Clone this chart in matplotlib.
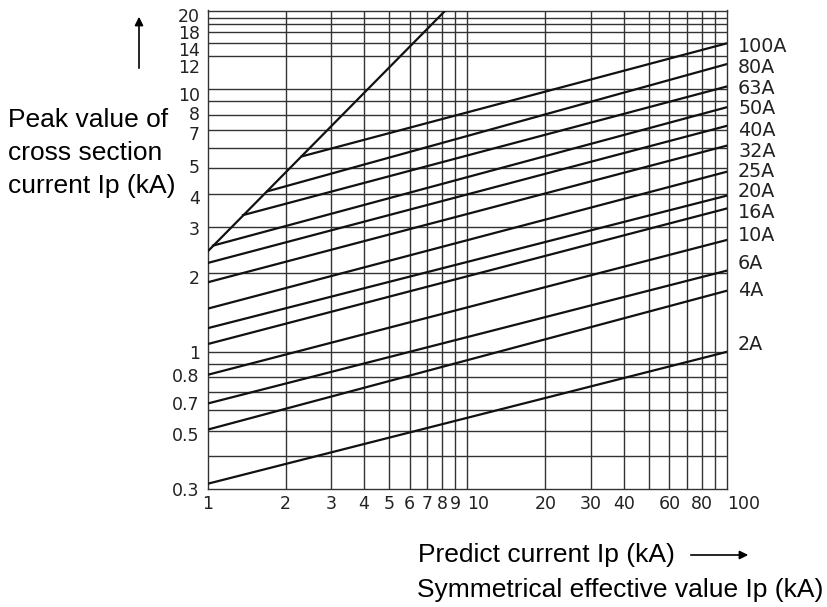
import numpy as np
import matplotlib
matplotlib.use("Agg")
import matplotlib.pyplot as plt
from matplotlib.ticker import NullLocator

# fuse ratings and their cut-off lines
fuse_labels = ['100A', '80A', '63A', '50A', '40A', '32A', '25A', '20A', '16A', '10A', '6A', '4A', '2A']
start_x = [2.31, 1.70, 1.37, 1.05, 1, 1, 1, 1, 1, 1, 1, 1, 1]
start_y = [5.56, 4.09, 3.32, 2.54, 2.18, 1.84, 1.46, 1.23, 1.07, 0.817, 0.635, 0.505, 0.314]
end_y = [15.0, 12.5, 10.27, 8.56, 7.27, 6.11, 4.86, 3.94, 3.52, 2.67, 2.04, 1.71, 1.0]
label_y = [14.6, 12.17, 10.09, 8.46, 6.98, 5.80, 4.86, 4.08, 3.39, 2.77, 2.17, 1.71, 1.07]

# unlimited peak current line
diag_x = [1, 8.24]
diag_y = [2.41, 20]

# grid
vgrid = [2, 3, 4, 5, 6, 7, 8, 9, 10, 20, 30, 40, 50, 60, 70, 80, 90]
hgrid = [0.4, 0.5, 0.6, 0.7, 0.8, 0.9, 1, 2, 3, 4, 5, 6, 7, 8, 9, 10,
         13.4, 15.0, 16.5, 17.7, 18.8]

xtick_vals = [1, 2, 3, 4, 5, 6, 7, 8, 9, 10, 20, 30, 40, 60, 80, 100]
xtick_labels = ['1', '2', '3', '4', '5', '6', '7', '8', '9', '10', '20', '30', '40', '60', '80', '100']
# label positions as they sit in the drawing
ytick_vals = [0.3, 0.487, 0.64, 0.815, 1, 1.93, 2.97, 3.88, 5.10, 6.80, 8.15, 9.57, 12.3, 14.3, 16.5, 19.2]
ytick_labels = ['0.3', '0.5', '0.7', '0.8', '1', '2', '3', '4', '5', '7', '8', '10', '12', '14', '18', '20']

W, H = 827, 607
fig = plt.figure(figsize=(W / 100, H / 100), dpi=100)
ax = fig.add_axes([207.5 / W, 1 - 489 / H, (727 - 207.5) / W, (489 - 10.5) / H])
ax.set_xscale('log')
ax.set_yscale('log')
ax.set_xlim(1, 100)
ax.set_ylim(0.3, 20)

gcol = '#333333'
for v in vgrid:
    ax.axvline(v, color=gcol, lw=1.0, zorder=1)
for v in hgrid:
    ax.axhline(v, color=gcol, lw=1.0, zorder=1)
for s in ax.spines.values():
    s.set_color(gcol)
    s.set_linewidth(1.0)

ax.plot(diag_x, diag_y, color='#111111', lw=1.6, zorder=3)
for lab, x0, y0, y1, ly in zip(fuse_labels, start_x, start_y, end_y, label_y):
    ax.plot([x0, 100], [y0, y1], color='#111111', lw=1.6, zorder=3)
    ax.annotate(lab, xy=(1, ly), xycoords=('axes fraction', 'data'),
                xytext=(8, 0), textcoords='offset points', va='center', ha='left',
                fontsize=13.8, color='#222222', family='DejaVu Sans',
                annotation_clip=False)

ax.xaxis.set_minor_locator(NullLocator())
ax.yaxis.set_minor_locator(NullLocator())
ax.set_xticks(xtick_vals, xtick_labels)
ax.set_yticks(ytick_vals, ytick_labels)
ax.tick_params(axis='x', length=0, pad=4, labelsize=12.5, labelcolor='#222222')
ax.tick_params(axis='y', length=0, pad=5.5, labelsize=12.5, labelcolor='#222222')
for t in ax.get_xticklabels():
    if t.get_text() in ('10', '100'):
        t.set_horizontalalignment('left')

# axis captions
tf = 'Liberation Sans'
fig.text(8 / W, 1 - 153 / H, "Peak value of\ncross section\ncurrent Ip (kA)",
         ha='left', va='center', fontsize=19, family=tf, linespacing=1.45)
fig.text(418 / W, 1 - 555 / H, "Predict current Ip (kA)",
         ha='left', va='center', fontsize=19, family=tf)
fig.text(417 / W, 1 - 590 / H, "Symmetrical effective value Ip (kA)",
         ha='left', va='center', fontsize=19, family=tf)

fig.add_artist(matplotlib.patches.FancyArrowPatch(
    (139 / W, 1 - 71 / H), (139 / W, 1 - 14 / H), transform=fig.transFigure,
    arrowstyle='-|>,head_length=5,head_width=2.5', color='black', lw=1.2))
fig.add_artist(matplotlib.patches.FancyArrowPatch(
    (688 / W, 1 - 555 / H), (751 / W, 1 - 555 / H), transform=fig.transFigure,
    arrowstyle='-|>,head_length=5,head_width=2.5', color='black', lw=1.2))

fig.savefig('out.png', dpi=100)
